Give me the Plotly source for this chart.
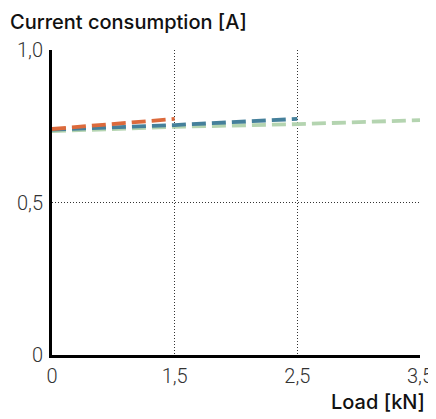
import plotly.graph_objects as go

x_labels = ["0", "1,5", "2,5", "3,5"]
series_orange = [0.741, 0.774]
series_blue = [0.739, 0.754, 0.774]
series_green = [0.734, 0.748, 0.757, 0.770]
y_ticks = [0, 0.5, 1.0]
y_ticktext = ["0", "0,5", "1,0"]

fig = go.Figure()
for vals, color in [(series_green, "#b4d4b0"), (series_blue, "#45809b"), (series_orange, "#dc6a3c")]:
    fig.add_trace(go.Scatter(
        x=x_labels[:len(vals)], y=vals, mode="lines",
        line=dict(color=color, width=3.8, dash="14px,6px"),
        showlegend=False, hoverinfo="skip"))

# page body has an 8px margin, so the figure is offset by (8, 8)
fig.update_layout(
    width=436, height=419,
    margin=dict(l=44, r=24, t=42, b=72),
    plot_bgcolor="white", paper_bgcolor="white",
    font=dict(family="Roboto", color="#333"),
    xaxis=dict(type="category", categoryorder="array", categoryarray=x_labels,
               range=[0, 3], showgrid=True, gridcolor="#333", griddash="1px,2px", gridwidth=1,
               showline=True, linecolor="black", linewidth=3, zeroline=False,
               ticks="", tickfont=dict(size=20, color="#333", weight=300),
               ticklabelstandoff=1, automargin=False),
    yaxis=dict(range=[0, 1.0], tickvals=y_ticks, ticktext=y_ticktext,
               showgrid=True, gridcolor="#333", griddash="1px,2px", gridwidth=1,
               showline=True, linecolor="black", linewidth=3, zeroline=False,
               ticks="", tickfont=dict(size=20, color="#333", weight=300),
               ticklabelstandoff=2, automargin=False),
    annotations=[
        dict(text="Current consumption [A]", xref="paper", yref="paper",
             x=-44/368, y=1 + 28/305, xanchor="left", yanchor="middle", showarrow=False,
             font=dict(family="Inter", size=20, color="#111", weight=500)),
        dict(text="Load [kN]", xref="paper", yref="paper",
             x=1.0 + 7/368, y=-47/305, xanchor="right", yanchor="middle", showarrow=False,
             font=dict(family="Inter", size=20, color="#111", weight=500)),
    ],
)
fig.write_html("out.html")
